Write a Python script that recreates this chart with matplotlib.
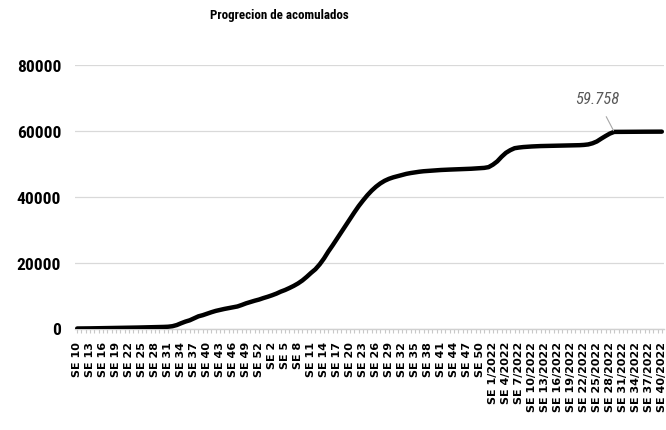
import matplotlib
matplotlib.use("Agg")
import matplotlib.pyplot as plt
from matplotlib.ticker import FixedLocator, NullFormatter

# Epidemiological weeks: 2020 (SE 10-53), 2021 (SE 1-52), 2022 (SE 1-40)
weeks_2020 = [f"SE {w}" for w in range(10, 54)]
weeks_2021 = [f"SE {w}" for w in range(1, 53)]
weeks_2022 = [f"SE {w}/2022" for w in range(1, 41)]
weeks = weeks_2020 + weeks_2021 + weeks_2022

# Cumulative totals per week
cumulative = [
    0, 5, 20, 40, 60, 80, 100, 120, 140, 160,
    180, 200, 230, 260, 290, 320, 350, 380, 410, 440,
    480, 540, 700, 1050, 1600, 2100, 2500, 3100, 3700, 4050,
    4500, 4950, 5350, 5650, 5950, 6200, 6450, 6700, 7150, 7650,
    8050, 8450, 8800, 9250, 9650, 10100, 10600, 11200, 11700, 12300,
    12950, 13700, 14600, 15700, 16900, 18000, 19500, 21300, 23400, 25300,
    27300, 29300, 31300, 33300, 35300, 37200, 38900, 40500, 41900, 43100,
    44100, 44900, 45500, 45950, 46300, 46650, 47000, 47250, 47450, 47650,
    47800, 47900, 48000, 48100, 48180, 48250, 48300, 48350, 48400, 48450,
    48500, 48560, 48640, 48720, 48820, 49050, 49800, 50800, 52200, 53400,
    54200, 54800, 55000, 55150, 55250, 55330, 55400, 55450, 55480, 55510,
    55540, 55570, 55600, 55620, 55640, 55670, 55720, 55800, 55950, 56300,
    56850, 57700, 58500, 59250, 59758, 59770, 59780, 59790, 59800, 59805,
    59810, 59815, 59820, 59825, 59830, 59835,
]

labelled_week = "SE 29/2022"
y_ticks = [0, 20000, 40000, 60000, 80000]

narrow = ["Roboto Condensed", "Archivo Narrow", "Liberation Sans", "DejaVu Sans"]

fig = plt.figure(figsize=(6.66, 4.31), dpi=100)
W, H = 666, 431
ax = fig.add_axes([75 / W, 1 - 329.5 / H, 589 / W, (329.5 - 66.3) / H])

x = list(range(len(weeks)))
ax.plot(x, cumulative, color="black", lw=3.2, solid_capstyle="round",
        solid_joinstyle="round", zorder=3)

ax.set_xlim(-0.5, len(weeks) - 0.5)
ax.set_ylim(y_ticks[0], y_ticks[-1])

# y axis: gridlines only, condensed bold labels
ax.set_yticks(y_ticks)
ax.set_yticklabels([str(v) for v in y_ticks])
ax.yaxis.grid(True, color="#d9d9d9", lw=0.9)
ax.set_axisbelow(True)
ax.tick_params(axis="y", length=0, pad=10)
for t in ax.get_yticklabels():
    t.set_family(narrow)
    t.set_fontweight("bold")
    t.set_fontsize(12.5)

# x axis: a tick for every week, a label on every third week
ax.set_xticks(x[::3])
ax.set_xticklabels(weeks[::3], rotation=90, va="top", ha="center")
ax.xaxis.set_minor_locator(FixedLocator(x))
ax.xaxis.set_minor_formatter(NullFormatter())
ax.tick_params(axis="x", which="both", length=3, color="#c8c8c8", width=0.8,
               direction="out", pad=6)
for t in ax.get_xticklabels():
    t.set_fontweight("bold")
    t.set_fontsize(8)

for side in ("left", "right", "top"):
    ax.spines[side].set_visible(False)
ax.spines["bottom"].set_color("#d0d0d0")
ax.spines["bottom"].set_linewidth(1.0)

# data label with leader line
idx = weeks.index(labelled_week)
val = cumulative[idx]
ax.annotate(f"{val:,}".replace(",", "."), xy=(idx, val),
            xytext=(597, H - 100), textcoords="figure pixels",
            ha="center", va="center", fontsize=12, style="italic",
            color="#595959", family=narrow,
            arrowprops=dict(arrowstyle="-", color="#a6a6a6", lw=0.8,
                            shrinkA=6, shrinkB=1),
            zorder=4)

fig.text(279.5 / W, 1 - 16 / H, "Progrecion de acomulados", ha="center",
         va="center", fontsize=9.4, fontweight="bold", family=narrow)

fig.savefig("out.png", dpi=100)
